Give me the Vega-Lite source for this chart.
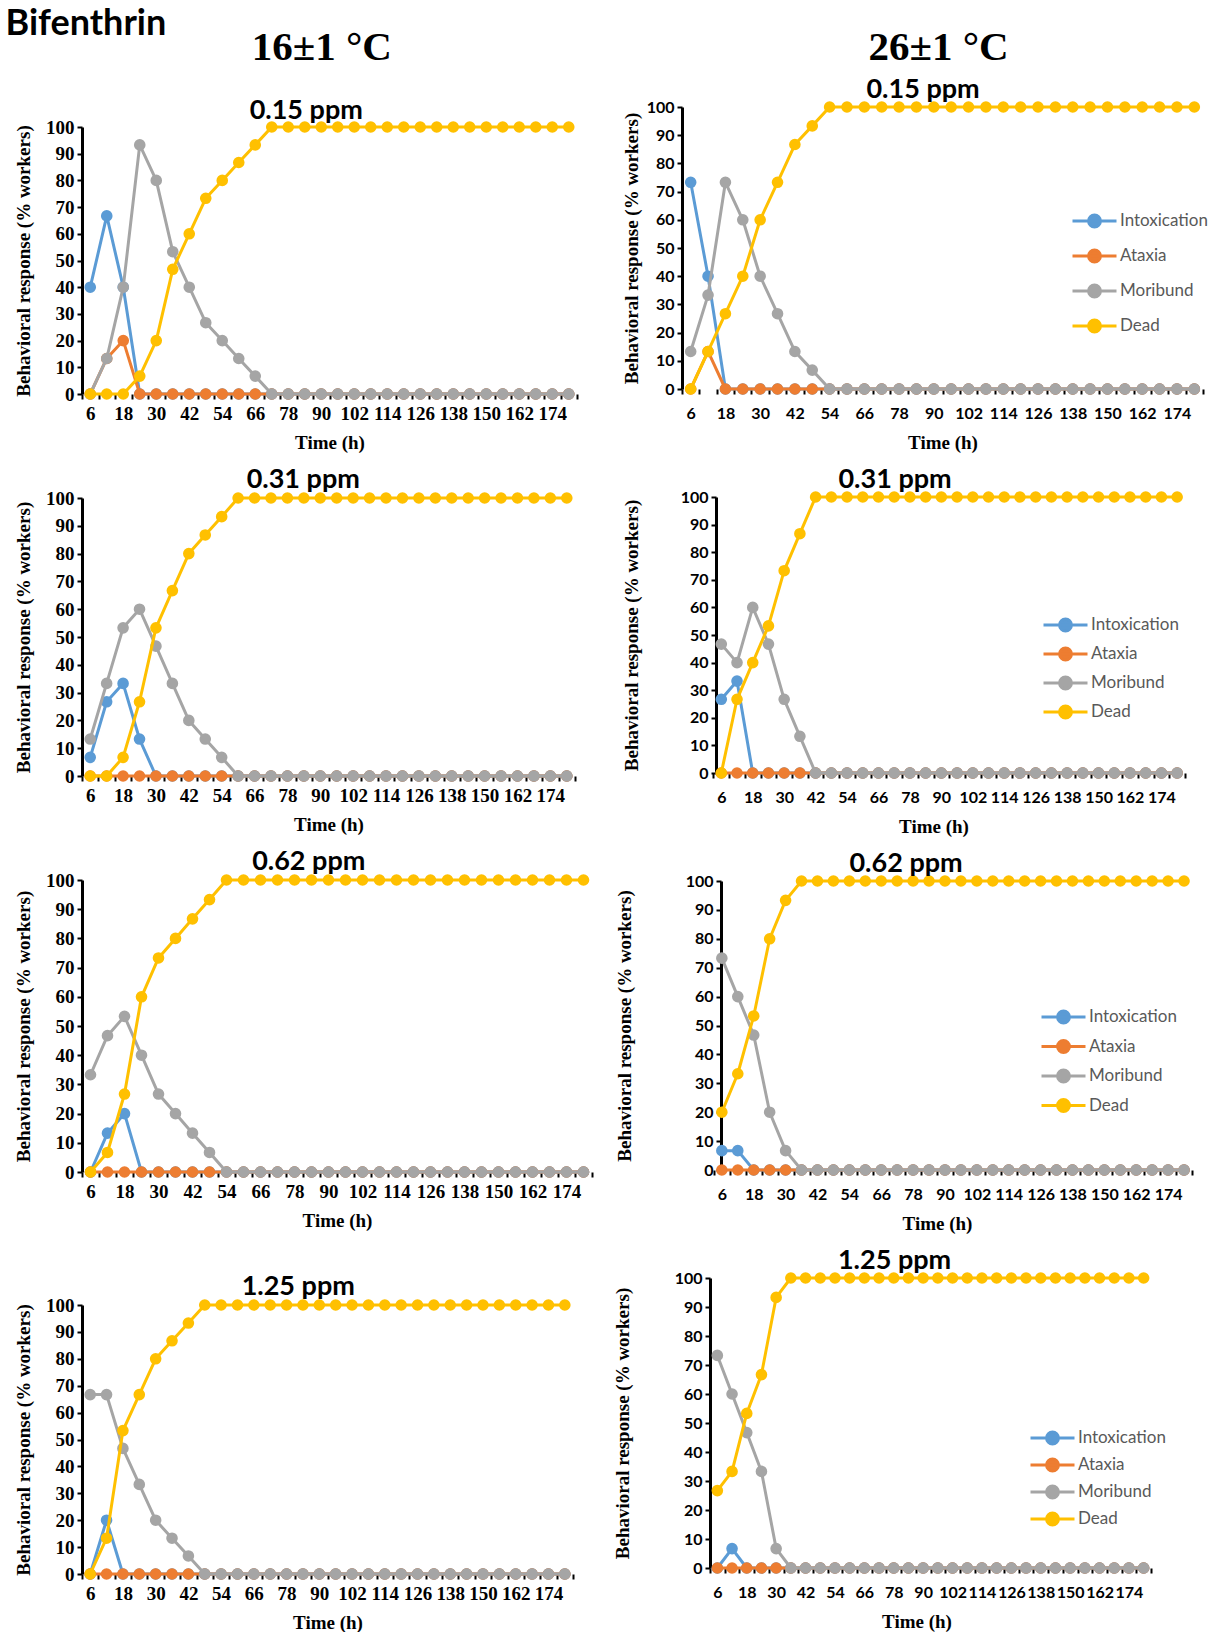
{
"$schema":"https://vega.github.io/schema/vega-lite/v6.json",
"background":"white",
"padding":{"left":5,"top":6,"right":0,"bottom":0},
"title":{"text":"Bifenthrin","anchor":"start","font":"Lato","fontSize":36,"fontWeight":"bold","color":"#000000","offset":-16,"dx":-9,"frame":"bounds"},
"config":{
"view":{"stroke":null},
"axis":{"grid":false,"labelFont":"Liberation Serif","labelFontWeight":"bold","labelFontSize":19,"labelColor":"#000000","titleFont":"Liberation Serif","titleFontWeight":"bold","titleFontSize":19,"titleColor":"#000000","tickColor":"#000000","tickWidth":2,"tickSize":5,"labelPadding":3},
"axisX":{"domain":false,"titlePadding":10,"labelPadding":5},
"axisY":{"domainColor":"#000000","domainWidth":3},
"title":{"font":"Lato","fontWeight":"bold","fontSize":27,"color":"#000000","offset":-5,"frame":"bounds","anchor":"middle"},
"line":{"strokeWidth":3,"strokeJoin":"round"},
"concat":{"spacing":21}
},
"datasets":{
"L1":[
{"s":"Intoxication","t":6,"v":40},{"s":"Intoxication","t":12,"v":66.7},{"s":"Intoxication","t":18,"v":40},{"s":"Intoxication","t":24,"v":0},{"s":"Intoxication","t":30,"v":0},{"s":"Intoxication","t":36,"v":0},{"s":"Intoxication","t":42,"v":0},{"s":"Intoxication","t":48,"v":0},{"s":"Intoxication","t":54,"v":0},{"s":"Intoxication","t":60,"v":0},{"s":"Intoxication","t":66,"v":0},{"s":"Intoxication","t":72,"v":0},{"s":"Intoxication","t":78,"v":0},{"s":"Intoxication","t":84,"v":0},{"s":"Intoxication","t":90,"v":0},{"s":"Intoxication","t":96,"v":0},{"s":"Intoxication","t":102,"v":0},{"s":"Intoxication","t":108,"v":0},{"s":"Intoxication","t":114,"v":0},{"s":"Intoxication","t":120,"v":0},{"s":"Intoxication","t":126,"v":0},{"s":"Intoxication","t":132,"v":0},{"s":"Intoxication","t":138,"v":0},{"s":"Intoxication","t":144,"v":0},{"s":"Intoxication","t":150,"v":0},{"s":"Intoxication","t":156,"v":0},{"s":"Intoxication","t":162,"v":0},{"s":"Intoxication","t":168,"v":0},{"s":"Intoxication","t":174,"v":0},{"s":"Intoxication","t":180,"v":0},
{"s":"Ataxia","t":6,"v":0},{"s":"Ataxia","t":12,"v":13.3},{"s":"Ataxia","t":18,"v":20},{"s":"Ataxia","t":24,"v":0},{"s":"Ataxia","t":30,"v":0},{"s":"Ataxia","t":36,"v":0},{"s":"Ataxia","t":42,"v":0},{"s":"Ataxia","t":48,"v":0},{"s":"Ataxia","t":54,"v":0},{"s":"Ataxia","t":60,"v":0},{"s":"Ataxia","t":66,"v":0},{"s":"Ataxia","t":72,"v":0},{"s":"Ataxia","t":78,"v":0},{"s":"Ataxia","t":84,"v":0},{"s":"Ataxia","t":90,"v":0},{"s":"Ataxia","t":96,"v":0},{"s":"Ataxia","t":102,"v":0},{"s":"Ataxia","t":108,"v":0},{"s":"Ataxia","t":114,"v":0},{"s":"Ataxia","t":120,"v":0},{"s":"Ataxia","t":126,"v":0},{"s":"Ataxia","t":132,"v":0},{"s":"Ataxia","t":138,"v":0},{"s":"Ataxia","t":144,"v":0},{"s":"Ataxia","t":150,"v":0},{"s":"Ataxia","t":156,"v":0},{"s":"Ataxia","t":162,"v":0},{"s":"Ataxia","t":168,"v":0},{"s":"Ataxia","t":174,"v":0},{"s":"Ataxia","t":180,"v":0},
{"s":"Moribund","t":6,"v":0},{"s":"Moribund","t":12,"v":13.3},{"s":"Moribund","t":18,"v":40},{"s":"Moribund","t":24,"v":93.3},{"s":"Moribund","t":30,"v":80},{"s":"Moribund","t":36,"v":53.3},{"s":"Moribund","t":42,"v":40},{"s":"Moribund","t":48,"v":26.7},{"s":"Moribund","t":54,"v":20},{"s":"Moribund","t":60,"v":13.3},{"s":"Moribund","t":66,"v":6.7},{"s":"Moribund","t":72,"v":0},{"s":"Moribund","t":78,"v":0},{"s":"Moribund","t":84,"v":0},{"s":"Moribund","t":90,"v":0},{"s":"Moribund","t":96,"v":0},{"s":"Moribund","t":102,"v":0},{"s":"Moribund","t":108,"v":0},{"s":"Moribund","t":114,"v":0},{"s":"Moribund","t":120,"v":0},{"s":"Moribund","t":126,"v":0},{"s":"Moribund","t":132,"v":0},{"s":"Moribund","t":138,"v":0},{"s":"Moribund","t":144,"v":0},{"s":"Moribund","t":150,"v":0},{"s":"Moribund","t":156,"v":0},{"s":"Moribund","t":162,"v":0},{"s":"Moribund","t":168,"v":0},{"s":"Moribund","t":174,"v":0},{"s":"Moribund","t":180,"v":0},
{"s":"Dead","t":6,"v":0},{"s":"Dead","t":12,"v":0},{"s":"Dead","t":18,"v":0},{"s":"Dead","t":24,"v":6.7},{"s":"Dead","t":30,"v":20},{"s":"Dead","t":36,"v":46.7},{"s":"Dead","t":42,"v":60},{"s":"Dead","t":48,"v":73.3},{"s":"Dead","t":54,"v":80},{"s":"Dead","t":60,"v":86.7},{"s":"Dead","t":66,"v":93.3},{"s":"Dead","t":72,"v":100},{"s":"Dead","t":78,"v":100},{"s":"Dead","t":84,"v":100},{"s":"Dead","t":90,"v":100},{"s":"Dead","t":96,"v":100},{"s":"Dead","t":102,"v":100},{"s":"Dead","t":108,"v":100},{"s":"Dead","t":114,"v":100},{"s":"Dead","t":120,"v":100},{"s":"Dead","t":126,"v":100},{"s":"Dead","t":132,"v":100},{"s":"Dead","t":138,"v":100},{"s":"Dead","t":144,"v":100},{"s":"Dead","t":150,"v":100},{"s":"Dead","t":156,"v":100},{"s":"Dead","t":162,"v":100},{"s":"Dead","t":168,"v":100},{"s":"Dead","t":174,"v":100},{"s":"Dead","t":180,"v":100}
],
"R1":[
{"s":"Intoxication","t":6,"v":73.3},{"s":"Intoxication","t":12,"v":40},{"s":"Intoxication","t":18,"v":0},{"s":"Intoxication","t":24,"v":0},{"s":"Intoxication","t":30,"v":0},{"s":"Intoxication","t":36,"v":0},{"s":"Intoxication","t":42,"v":0},{"s":"Intoxication","t":48,"v":0},{"s":"Intoxication","t":54,"v":0},{"s":"Intoxication","t":60,"v":0},{"s":"Intoxication","t":66,"v":0},{"s":"Intoxication","t":72,"v":0},{"s":"Intoxication","t":78,"v":0},{"s":"Intoxication","t":84,"v":0},{"s":"Intoxication","t":90,"v":0},{"s":"Intoxication","t":96,"v":0},{"s":"Intoxication","t":102,"v":0},{"s":"Intoxication","t":108,"v":0},{"s":"Intoxication","t":114,"v":0},{"s":"Intoxication","t":120,"v":0},{"s":"Intoxication","t":126,"v":0},{"s":"Intoxication","t":132,"v":0},{"s":"Intoxication","t":138,"v":0},{"s":"Intoxication","t":144,"v":0},{"s":"Intoxication","t":150,"v":0},{"s":"Intoxication","t":156,"v":0},{"s":"Intoxication","t":162,"v":0},{"s":"Intoxication","t":168,"v":0},{"s":"Intoxication","t":174,"v":0},{"s":"Intoxication","t":180,"v":0},
{"s":"Ataxia","t":6,"v":0},{"s":"Ataxia","t":12,"v":13.3},{"s":"Ataxia","t":18,"v":0},{"s":"Ataxia","t":24,"v":0},{"s":"Ataxia","t":30,"v":0},{"s":"Ataxia","t":36,"v":0},{"s":"Ataxia","t":42,"v":0},{"s":"Ataxia","t":48,"v":0},{"s":"Ataxia","t":54,"v":0},{"s":"Ataxia","t":60,"v":0},{"s":"Ataxia","t":66,"v":0},{"s":"Ataxia","t":72,"v":0},{"s":"Ataxia","t":78,"v":0},{"s":"Ataxia","t":84,"v":0},{"s":"Ataxia","t":90,"v":0},{"s":"Ataxia","t":96,"v":0},{"s":"Ataxia","t":102,"v":0},{"s":"Ataxia","t":108,"v":0},{"s":"Ataxia","t":114,"v":0},{"s":"Ataxia","t":120,"v":0},{"s":"Ataxia","t":126,"v":0},{"s":"Ataxia","t":132,"v":0},{"s":"Ataxia","t":138,"v":0},{"s":"Ataxia","t":144,"v":0},{"s":"Ataxia","t":150,"v":0},{"s":"Ataxia","t":156,"v":0},{"s":"Ataxia","t":162,"v":0},{"s":"Ataxia","t":168,"v":0},{"s":"Ataxia","t":174,"v":0},{"s":"Ataxia","t":180,"v":0},
{"s":"Moribund","t":6,"v":13.3},{"s":"Moribund","t":12,"v":33.3},{"s":"Moribund","t":18,"v":73.3},{"s":"Moribund","t":24,"v":60},{"s":"Moribund","t":30,"v":40},{"s":"Moribund","t":36,"v":26.7},{"s":"Moribund","t":42,"v":13.3},{"s":"Moribund","t":48,"v":6.7},{"s":"Moribund","t":54,"v":0},{"s":"Moribund","t":60,"v":0},{"s":"Moribund","t":66,"v":0},{"s":"Moribund","t":72,"v":0},{"s":"Moribund","t":78,"v":0},{"s":"Moribund","t":84,"v":0},{"s":"Moribund","t":90,"v":0},{"s":"Moribund","t":96,"v":0},{"s":"Moribund","t":102,"v":0},{"s":"Moribund","t":108,"v":0},{"s":"Moribund","t":114,"v":0},{"s":"Moribund","t":120,"v":0},{"s":"Moribund","t":126,"v":0},{"s":"Moribund","t":132,"v":0},{"s":"Moribund","t":138,"v":0},{"s":"Moribund","t":144,"v":0},{"s":"Moribund","t":150,"v":0},{"s":"Moribund","t":156,"v":0},{"s":"Moribund","t":162,"v":0},{"s":"Moribund","t":168,"v":0},{"s":"Moribund","t":174,"v":0},{"s":"Moribund","t":180,"v":0},
{"s":"Dead","t":6,"v":0},{"s":"Dead","t":12,"v":13.3},{"s":"Dead","t":18,"v":26.7},{"s":"Dead","t":24,"v":40},{"s":"Dead","t":30,"v":60},{"s":"Dead","t":36,"v":73.3},{"s":"Dead","t":42,"v":86.7},{"s":"Dead","t":48,"v":93.3},{"s":"Dead","t":54,"v":100},{"s":"Dead","t":60,"v":100},{"s":"Dead","t":66,"v":100},{"s":"Dead","t":72,"v":100},{"s":"Dead","t":78,"v":100},{"s":"Dead","t":84,"v":100},{"s":"Dead","t":90,"v":100},{"s":"Dead","t":96,"v":100},{"s":"Dead","t":102,"v":100},{"s":"Dead","t":108,"v":100},{"s":"Dead","t":114,"v":100},{"s":"Dead","t":120,"v":100},{"s":"Dead","t":126,"v":100},{"s":"Dead","t":132,"v":100},{"s":"Dead","t":138,"v":100},{"s":"Dead","t":144,"v":100},{"s":"Dead","t":150,"v":100},{"s":"Dead","t":156,"v":100},{"s":"Dead","t":162,"v":100},{"s":"Dead","t":168,"v":100},{"s":"Dead","t":174,"v":100},{"s":"Dead","t":180,"v":100}
],
"L2":[
{"s":"Intoxication","t":6,"v":6.7},{"s":"Intoxication","t":12,"v":26.7},{"s":"Intoxication","t":18,"v":33.3},{"s":"Intoxication","t":24,"v":13.3},{"s":"Intoxication","t":30,"v":0},{"s":"Intoxication","t":36,"v":0},{"s":"Intoxication","t":42,"v":0},{"s":"Intoxication","t":48,"v":0},{"s":"Intoxication","t":54,"v":0},{"s":"Intoxication","t":60,"v":0},{"s":"Intoxication","t":66,"v":0},{"s":"Intoxication","t":72,"v":0},{"s":"Intoxication","t":78,"v":0},{"s":"Intoxication","t":84,"v":0},{"s":"Intoxication","t":90,"v":0},{"s":"Intoxication","t":96,"v":0},{"s":"Intoxication","t":102,"v":0},{"s":"Intoxication","t":108,"v":0},{"s":"Intoxication","t":114,"v":0},{"s":"Intoxication","t":120,"v":0},{"s":"Intoxication","t":126,"v":0},{"s":"Intoxication","t":132,"v":0},{"s":"Intoxication","t":138,"v":0},{"s":"Intoxication","t":144,"v":0},{"s":"Intoxication","t":150,"v":0},{"s":"Intoxication","t":156,"v":0},{"s":"Intoxication","t":162,"v":0},{"s":"Intoxication","t":168,"v":0},{"s":"Intoxication","t":174,"v":0},{"s":"Intoxication","t":180,"v":0},
{"s":"Ataxia","t":6,"v":0},{"s":"Ataxia","t":12,"v":0},{"s":"Ataxia","t":18,"v":0},{"s":"Ataxia","t":24,"v":0},{"s":"Ataxia","t":30,"v":0},{"s":"Ataxia","t":36,"v":0},{"s":"Ataxia","t":42,"v":0},{"s":"Ataxia","t":48,"v":0},{"s":"Ataxia","t":54,"v":0},{"s":"Ataxia","t":60,"v":0},{"s":"Ataxia","t":66,"v":0},{"s":"Ataxia","t":72,"v":0},{"s":"Ataxia","t":78,"v":0},{"s":"Ataxia","t":84,"v":0},{"s":"Ataxia","t":90,"v":0},{"s":"Ataxia","t":96,"v":0},{"s":"Ataxia","t":102,"v":0},{"s":"Ataxia","t":108,"v":0},{"s":"Ataxia","t":114,"v":0},{"s":"Ataxia","t":120,"v":0},{"s":"Ataxia","t":126,"v":0},{"s":"Ataxia","t":132,"v":0},{"s":"Ataxia","t":138,"v":0},{"s":"Ataxia","t":144,"v":0},{"s":"Ataxia","t":150,"v":0},{"s":"Ataxia","t":156,"v":0},{"s":"Ataxia","t":162,"v":0},{"s":"Ataxia","t":168,"v":0},{"s":"Ataxia","t":174,"v":0},{"s":"Ataxia","t":180,"v":0},
{"s":"Moribund","t":6,"v":13.3},{"s":"Moribund","t":12,"v":33.3},{"s":"Moribund","t":18,"v":53.3},{"s":"Moribund","t":24,"v":60},{"s":"Moribund","t":30,"v":46.7},{"s":"Moribund","t":36,"v":33.3},{"s":"Moribund","t":42,"v":20},{"s":"Moribund","t":48,"v":13.3},{"s":"Moribund","t":54,"v":6.7},{"s":"Moribund","t":60,"v":0},{"s":"Moribund","t":66,"v":0},{"s":"Moribund","t":72,"v":0},{"s":"Moribund","t":78,"v":0},{"s":"Moribund","t":84,"v":0},{"s":"Moribund","t":90,"v":0},{"s":"Moribund","t":96,"v":0},{"s":"Moribund","t":102,"v":0},{"s":"Moribund","t":108,"v":0},{"s":"Moribund","t":114,"v":0},{"s":"Moribund","t":120,"v":0},{"s":"Moribund","t":126,"v":0},{"s":"Moribund","t":132,"v":0},{"s":"Moribund","t":138,"v":0},{"s":"Moribund","t":144,"v":0},{"s":"Moribund","t":150,"v":0},{"s":"Moribund","t":156,"v":0},{"s":"Moribund","t":162,"v":0},{"s":"Moribund","t":168,"v":0},{"s":"Moribund","t":174,"v":0},{"s":"Moribund","t":180,"v":0},
{"s":"Dead","t":6,"v":0},{"s":"Dead","t":12,"v":0},{"s":"Dead","t":18,"v":6.7},{"s":"Dead","t":24,"v":26.7},{"s":"Dead","t":30,"v":53.3},{"s":"Dead","t":36,"v":66.7},{"s":"Dead","t":42,"v":80},{"s":"Dead","t":48,"v":86.7},{"s":"Dead","t":54,"v":93.3},{"s":"Dead","t":60,"v":100},{"s":"Dead","t":66,"v":100},{"s":"Dead","t":72,"v":100},{"s":"Dead","t":78,"v":100},{"s":"Dead","t":84,"v":100},{"s":"Dead","t":90,"v":100},{"s":"Dead","t":96,"v":100},{"s":"Dead","t":102,"v":100},{"s":"Dead","t":108,"v":100},{"s":"Dead","t":114,"v":100},{"s":"Dead","t":120,"v":100},{"s":"Dead","t":126,"v":100},{"s":"Dead","t":132,"v":100},{"s":"Dead","t":138,"v":100},{"s":"Dead","t":144,"v":100},{"s":"Dead","t":150,"v":100},{"s":"Dead","t":156,"v":100},{"s":"Dead","t":162,"v":100},{"s":"Dead","t":168,"v":100},{"s":"Dead","t":174,"v":100},{"s":"Dead","t":180,"v":100}
],
"R2":[
{"s":"Intoxication","t":6,"v":26.7},{"s":"Intoxication","t":12,"v":33.3},{"s":"Intoxication","t":18,"v":0},{"s":"Intoxication","t":24,"v":0},{"s":"Intoxication","t":30,"v":0},{"s":"Intoxication","t":36,"v":0},{"s":"Intoxication","t":42,"v":0},{"s":"Intoxication","t":48,"v":0},{"s":"Intoxication","t":54,"v":0},{"s":"Intoxication","t":60,"v":0},{"s":"Intoxication","t":66,"v":0},{"s":"Intoxication","t":72,"v":0},{"s":"Intoxication","t":78,"v":0},{"s":"Intoxication","t":84,"v":0},{"s":"Intoxication","t":90,"v":0},{"s":"Intoxication","t":96,"v":0},{"s":"Intoxication","t":102,"v":0},{"s":"Intoxication","t":108,"v":0},{"s":"Intoxication","t":114,"v":0},{"s":"Intoxication","t":120,"v":0},{"s":"Intoxication","t":126,"v":0},{"s":"Intoxication","t":132,"v":0},{"s":"Intoxication","t":138,"v":0},{"s":"Intoxication","t":144,"v":0},{"s":"Intoxication","t":150,"v":0},{"s":"Intoxication","t":156,"v":0},{"s":"Intoxication","t":162,"v":0},{"s":"Intoxication","t":168,"v":0},{"s":"Intoxication","t":174,"v":0},{"s":"Intoxication","t":180,"v":0},
{"s":"Ataxia","t":6,"v":0},{"s":"Ataxia","t":12,"v":0},{"s":"Ataxia","t":18,"v":0},{"s":"Ataxia","t":24,"v":0},{"s":"Ataxia","t":30,"v":0},{"s":"Ataxia","t":36,"v":0},{"s":"Ataxia","t":42,"v":0},{"s":"Ataxia","t":48,"v":0},{"s":"Ataxia","t":54,"v":0},{"s":"Ataxia","t":60,"v":0},{"s":"Ataxia","t":66,"v":0},{"s":"Ataxia","t":72,"v":0},{"s":"Ataxia","t":78,"v":0},{"s":"Ataxia","t":84,"v":0},{"s":"Ataxia","t":90,"v":0},{"s":"Ataxia","t":96,"v":0},{"s":"Ataxia","t":102,"v":0},{"s":"Ataxia","t":108,"v":0},{"s":"Ataxia","t":114,"v":0},{"s":"Ataxia","t":120,"v":0},{"s":"Ataxia","t":126,"v":0},{"s":"Ataxia","t":132,"v":0},{"s":"Ataxia","t":138,"v":0},{"s":"Ataxia","t":144,"v":0},{"s":"Ataxia","t":150,"v":0},{"s":"Ataxia","t":156,"v":0},{"s":"Ataxia","t":162,"v":0},{"s":"Ataxia","t":168,"v":0},{"s":"Ataxia","t":174,"v":0},{"s":"Ataxia","t":180,"v":0},
{"s":"Moribund","t":6,"v":46.7},{"s":"Moribund","t":12,"v":40},{"s":"Moribund","t":18,"v":60},{"s":"Moribund","t":24,"v":46.7},{"s":"Moribund","t":30,"v":26.7},{"s":"Moribund","t":36,"v":13.3},{"s":"Moribund","t":42,"v":0},{"s":"Moribund","t":48,"v":0},{"s":"Moribund","t":54,"v":0},{"s":"Moribund","t":60,"v":0},{"s":"Moribund","t":66,"v":0},{"s":"Moribund","t":72,"v":0},{"s":"Moribund","t":78,"v":0},{"s":"Moribund","t":84,"v":0},{"s":"Moribund","t":90,"v":0},{"s":"Moribund","t":96,"v":0},{"s":"Moribund","t":102,"v":0},{"s":"Moribund","t":108,"v":0},{"s":"Moribund","t":114,"v":0},{"s":"Moribund","t":120,"v":0},{"s":"Moribund","t":126,"v":0},{"s":"Moribund","t":132,"v":0},{"s":"Moribund","t":138,"v":0},{"s":"Moribund","t":144,"v":0},{"s":"Moribund","t":150,"v":0},{"s":"Moribund","t":156,"v":0},{"s":"Moribund","t":162,"v":0},{"s":"Moribund","t":168,"v":0},{"s":"Moribund","t":174,"v":0},{"s":"Moribund","t":180,"v":0},
{"s":"Dead","t":6,"v":0},{"s":"Dead","t":12,"v":26.7},{"s":"Dead","t":18,"v":40},{"s":"Dead","t":24,"v":53.3},{"s":"Dead","t":30,"v":73.3},{"s":"Dead","t":36,"v":86.7},{"s":"Dead","t":42,"v":100},{"s":"Dead","t":48,"v":100},{"s":"Dead","t":54,"v":100},{"s":"Dead","t":60,"v":100},{"s":"Dead","t":66,"v":100},{"s":"Dead","t":72,"v":100},{"s":"Dead","t":78,"v":100},{"s":"Dead","t":84,"v":100},{"s":"Dead","t":90,"v":100},{"s":"Dead","t":96,"v":100},{"s":"Dead","t":102,"v":100},{"s":"Dead","t":108,"v":100},{"s":"Dead","t":114,"v":100},{"s":"Dead","t":120,"v":100},{"s":"Dead","t":126,"v":100},{"s":"Dead","t":132,"v":100},{"s":"Dead","t":138,"v":100},{"s":"Dead","t":144,"v":100},{"s":"Dead","t":150,"v":100},{"s":"Dead","t":156,"v":100},{"s":"Dead","t":162,"v":100},{"s":"Dead","t":168,"v":100},{"s":"Dead","t":174,"v":100},{"s":"Dead","t":180,"v":100}
],
"L3":[
{"s":"Intoxication","t":6,"v":0},{"s":"Intoxication","t":12,"v":13.3},{"s":"Intoxication","t":18,"v":20},{"s":"Intoxication","t":24,"v":0},{"s":"Intoxication","t":30,"v":0},{"s":"Intoxication","t":36,"v":0},{"s":"Intoxication","t":42,"v":0},{"s":"Intoxication","t":48,"v":0},{"s":"Intoxication","t":54,"v":0},{"s":"Intoxication","t":60,"v":0},{"s":"Intoxication","t":66,"v":0},{"s":"Intoxication","t":72,"v":0},{"s":"Intoxication","t":78,"v":0},{"s":"Intoxication","t":84,"v":0},{"s":"Intoxication","t":90,"v":0},{"s":"Intoxication","t":96,"v":0},{"s":"Intoxication","t":102,"v":0},{"s":"Intoxication","t":108,"v":0},{"s":"Intoxication","t":114,"v":0},{"s":"Intoxication","t":120,"v":0},{"s":"Intoxication","t":126,"v":0},{"s":"Intoxication","t":132,"v":0},{"s":"Intoxication","t":138,"v":0},{"s":"Intoxication","t":144,"v":0},{"s":"Intoxication","t":150,"v":0},{"s":"Intoxication","t":156,"v":0},{"s":"Intoxication","t":162,"v":0},{"s":"Intoxication","t":168,"v":0},{"s":"Intoxication","t":174,"v":0},{"s":"Intoxication","t":180,"v":0},
{"s":"Ataxia","t":6,"v":0},{"s":"Ataxia","t":12,"v":0},{"s":"Ataxia","t":18,"v":0},{"s":"Ataxia","t":24,"v":0},{"s":"Ataxia","t":30,"v":0},{"s":"Ataxia","t":36,"v":0},{"s":"Ataxia","t":42,"v":0},{"s":"Ataxia","t":48,"v":0},{"s":"Ataxia","t":54,"v":0},{"s":"Ataxia","t":60,"v":0},{"s":"Ataxia","t":66,"v":0},{"s":"Ataxia","t":72,"v":0},{"s":"Ataxia","t":78,"v":0},{"s":"Ataxia","t":84,"v":0},{"s":"Ataxia","t":90,"v":0},{"s":"Ataxia","t":96,"v":0},{"s":"Ataxia","t":102,"v":0},{"s":"Ataxia","t":108,"v":0},{"s":"Ataxia","t":114,"v":0},{"s":"Ataxia","t":120,"v":0},{"s":"Ataxia","t":126,"v":0},{"s":"Ataxia","t":132,"v":0},{"s":"Ataxia","t":138,"v":0},{"s":"Ataxia","t":144,"v":0},{"s":"Ataxia","t":150,"v":0},{"s":"Ataxia","t":156,"v":0},{"s":"Ataxia","t":162,"v":0},{"s":"Ataxia","t":168,"v":0},{"s":"Ataxia","t":174,"v":0},{"s":"Ataxia","t":180,"v":0},
{"s":"Moribund","t":6,"v":33.3},{"s":"Moribund","t":12,"v":46.7},{"s":"Moribund","t":18,"v":53.3},{"s":"Moribund","t":24,"v":40},{"s":"Moribund","t":30,"v":26.7},{"s":"Moribund","t":36,"v":20},{"s":"Moribund","t":42,"v":13.3},{"s":"Moribund","t":48,"v":6.7},{"s":"Moribund","t":54,"v":0},{"s":"Moribund","t":60,"v":0},{"s":"Moribund","t":66,"v":0},{"s":"Moribund","t":72,"v":0},{"s":"Moribund","t":78,"v":0},{"s":"Moribund","t":84,"v":0},{"s":"Moribund","t":90,"v":0},{"s":"Moribund","t":96,"v":0},{"s":"Moribund","t":102,"v":0},{"s":"Moribund","t":108,"v":0},{"s":"Moribund","t":114,"v":0},{"s":"Moribund","t":120,"v":0},{"s":"Moribund","t":126,"v":0},{"s":"Moribund","t":132,"v":0},{"s":"Moribund","t":138,"v":0},{"s":"Moribund","t":144,"v":0},{"s":"Moribund","t":150,"v":0},{"s":"Moribund","t":156,"v":0},{"s":"Moribund","t":162,"v":0},{"s":"Moribund","t":168,"v":0},{"s":"Moribund","t":174,"v":0},{"s":"Moribund","t":180,"v":0},
{"s":"Dead","t":6,"v":0},{"s":"Dead","t":12,"v":6.7},{"s":"Dead","t":18,"v":26.7},{"s":"Dead","t":24,"v":60},{"s":"Dead","t":30,"v":73.3},{"s":"Dead","t":36,"v":80},{"s":"Dead","t":42,"v":86.7},{"s":"Dead","t":48,"v":93.3},{"s":"Dead","t":54,"v":100},{"s":"Dead","t":60,"v":100},{"s":"Dead","t":66,"v":100},{"s":"Dead","t":72,"v":100},{"s":"Dead","t":78,"v":100},{"s":"Dead","t":84,"v":100},{"s":"Dead","t":90,"v":100},{"s":"Dead","t":96,"v":100},{"s":"Dead","t":102,"v":100},{"s":"Dead","t":108,"v":100},{"s":"Dead","t":114,"v":100},{"s":"Dead","t":120,"v":100},{"s":"Dead","t":126,"v":100},{"s":"Dead","t":132,"v":100},{"s":"Dead","t":138,"v":100},{"s":"Dead","t":144,"v":100},{"s":"Dead","t":150,"v":100},{"s":"Dead","t":156,"v":100},{"s":"Dead","t":162,"v":100},{"s":"Dead","t":168,"v":100},{"s":"Dead","t":174,"v":100},{"s":"Dead","t":180,"v":100}
],
"R3":[
{"s":"Intoxication","t":6,"v":6.7},{"s":"Intoxication","t":12,"v":6.7},{"s":"Intoxication","t":18,"v":0},{"s":"Intoxication","t":24,"v":0},{"s":"Intoxication","t":30,"v":0},{"s":"Intoxication","t":36,"v":0},{"s":"Intoxication","t":42,"v":0},{"s":"Intoxication","t":48,"v":0},{"s":"Intoxication","t":54,"v":0},{"s":"Intoxication","t":60,"v":0},{"s":"Intoxication","t":66,"v":0},{"s":"Intoxication","t":72,"v":0},{"s":"Intoxication","t":78,"v":0},{"s":"Intoxication","t":84,"v":0},{"s":"Intoxication","t":90,"v":0},{"s":"Intoxication","t":96,"v":0},{"s":"Intoxication","t":102,"v":0},{"s":"Intoxication","t":108,"v":0},{"s":"Intoxication","t":114,"v":0},{"s":"Intoxication","t":120,"v":0},{"s":"Intoxication","t":126,"v":0},{"s":"Intoxication","t":132,"v":0},{"s":"Intoxication","t":138,"v":0},{"s":"Intoxication","t":144,"v":0},{"s":"Intoxication","t":150,"v":0},{"s":"Intoxication","t":156,"v":0},{"s":"Intoxication","t":162,"v":0},{"s":"Intoxication","t":168,"v":0},{"s":"Intoxication","t":174,"v":0},{"s":"Intoxication","t":180,"v":0},
{"s":"Ataxia","t":6,"v":0},{"s":"Ataxia","t":12,"v":0},{"s":"Ataxia","t":18,"v":0},{"s":"Ataxia","t":24,"v":0},{"s":"Ataxia","t":30,"v":0},{"s":"Ataxia","t":36,"v":0},{"s":"Ataxia","t":42,"v":0},{"s":"Ataxia","t":48,"v":0},{"s":"Ataxia","t":54,"v":0},{"s":"Ataxia","t":60,"v":0},{"s":"Ataxia","t":66,"v":0},{"s":"Ataxia","t":72,"v":0},{"s":"Ataxia","t":78,"v":0},{"s":"Ataxia","t":84,"v":0},{"s":"Ataxia","t":90,"v":0},{"s":"Ataxia","t":96,"v":0},{"s":"Ataxia","t":102,"v":0},{"s":"Ataxia","t":108,"v":0},{"s":"Ataxia","t":114,"v":0},{"s":"Ataxia","t":120,"v":0},{"s":"Ataxia","t":126,"v":0},{"s":"Ataxia","t":132,"v":0},{"s":"Ataxia","t":138,"v":0},{"s":"Ataxia","t":144,"v":0},{"s":"Ataxia","t":150,"v":0},{"s":"Ataxia","t":156,"v":0},{"s":"Ataxia","t":162,"v":0},{"s":"Ataxia","t":168,"v":0},{"s":"Ataxia","t":174,"v":0},{"s":"Ataxia","t":180,"v":0},
{"s":"Moribund","t":6,"v":73.3},{"s":"Moribund","t":12,"v":60},{"s":"Moribund","t":18,"v":46.7},{"s":"Moribund","t":24,"v":20},{"s":"Moribund","t":30,"v":6.7},{"s":"Moribund","t":36,"v":0},{"s":"Moribund","t":42,"v":0},{"s":"Moribund","t":48,"v":0},{"s":"Moribund","t":54,"v":0},{"s":"Moribund","t":60,"v":0},{"s":"Moribund","t":66,"v":0},{"s":"Moribund","t":72,"v":0},{"s":"Moribund","t":78,"v":0},{"s":"Moribund","t":84,"v":0},{"s":"Moribund","t":90,"v":0},{"s":"Moribund","t":96,"v":0},{"s":"Moribund","t":102,"v":0},{"s":"Moribund","t":108,"v":0},{"s":"Moribund","t":114,"v":0},{"s":"Moribund","t":120,"v":0},{"s":"Moribund","t":126,"v":0},{"s":"Moribund","t":132,"v":0},{"s":"Moribund","t":138,"v":0},{"s":"Moribund","t":144,"v":0},{"s":"Moribund","t":150,"v":0},{"s":"Moribund","t":156,"v":0},{"s":"Moribund","t":162,"v":0},{"s":"Moribund","t":168,"v":0},{"s":"Moribund","t":174,"v":0},{"s":"Moribund","t":180,"v":0},
{"s":"Dead","t":6,"v":20},{"s":"Dead","t":12,"v":33.3},{"s":"Dead","t":18,"v":53.3},{"s":"Dead","t":24,"v":80},{"s":"Dead","t":30,"v":93.3},{"s":"Dead","t":36,"v":100},{"s":"Dead","t":42,"v":100},{"s":"Dead","t":48,"v":100},{"s":"Dead","t":54,"v":100},{"s":"Dead","t":60,"v":100},{"s":"Dead","t":66,"v":100},{"s":"Dead","t":72,"v":100},{"s":"Dead","t":78,"v":100},{"s":"Dead","t":84,"v":100},{"s":"Dead","t":90,"v":100},{"s":"Dead","t":96,"v":100},{"s":"Dead","t":102,"v":100},{"s":"Dead","t":108,"v":100},{"s":"Dead","t":114,"v":100},{"s":"Dead","t":120,"v":100},{"s":"Dead","t":126,"v":100},{"s":"Dead","t":132,"v":100},{"s":"Dead","t":138,"v":100},{"s":"Dead","t":144,"v":100},{"s":"Dead","t":150,"v":100},{"s":"Dead","t":156,"v":100},{"s":"Dead","t":162,"v":100},{"s":"Dead","t":168,"v":100},{"s":"Dead","t":174,"v":100},{"s":"Dead","t":180,"v":100}
],
"L4":[
{"s":"Intoxication","t":6,"v":0},{"s":"Intoxication","t":12,"v":20},{"s":"Intoxication","t":18,"v":0},{"s":"Intoxication","t":24,"v":0},{"s":"Intoxication","t":30,"v":0},{"s":"Intoxication","t":36,"v":0},{"s":"Intoxication","t":42,"v":0},{"s":"Intoxication","t":48,"v":0},{"s":"Intoxication","t":54,"v":0},{"s":"Intoxication","t":60,"v":0},{"s":"Intoxication","t":66,"v":0},{"s":"Intoxication","t":72,"v":0},{"s":"Intoxication","t":78,"v":0},{"s":"Intoxication","t":84,"v":0},{"s":"Intoxication","t":90,"v":0},{"s":"Intoxication","t":96,"v":0},{"s":"Intoxication","t":102,"v":0},{"s":"Intoxication","t":108,"v":0},{"s":"Intoxication","t":114,"v":0},{"s":"Intoxication","t":120,"v":0},{"s":"Intoxication","t":126,"v":0},{"s":"Intoxication","t":132,"v":0},{"s":"Intoxication","t":138,"v":0},{"s":"Intoxication","t":144,"v":0},{"s":"Intoxication","t":150,"v":0},{"s":"Intoxication","t":156,"v":0},{"s":"Intoxication","t":162,"v":0},{"s":"Intoxication","t":168,"v":0},{"s":"Intoxication","t":174,"v":0},{"s":"Intoxication","t":180,"v":0},
{"s":"Ataxia","t":6,"v":0},{"s":"Ataxia","t":12,"v":0},{"s":"Ataxia","t":18,"v":0},{"s":"Ataxia","t":24,"v":0},{"s":"Ataxia","t":30,"v":0},{"s":"Ataxia","t":36,"v":0},{"s":"Ataxia","t":42,"v":0},{"s":"Ataxia","t":48,"v":0},{"s":"Ataxia","t":54,"v":0},{"s":"Ataxia","t":60,"v":0},{"s":"Ataxia","t":66,"v":0},{"s":"Ataxia","t":72,"v":0},{"s":"Ataxia","t":78,"v":0},{"s":"Ataxia","t":84,"v":0},{"s":"Ataxia","t":90,"v":0},{"s":"Ataxia","t":96,"v":0},{"s":"Ataxia","t":102,"v":0},{"s":"Ataxia","t":108,"v":0},{"s":"Ataxia","t":114,"v":0},{"s":"Ataxia","t":120,"v":0},{"s":"Ataxia","t":126,"v":0},{"s":"Ataxia","t":132,"v":0},{"s":"Ataxia","t":138,"v":0},{"s":"Ataxia","t":144,"v":0},{"s":"Ataxia","t":150,"v":0},{"s":"Ataxia","t":156,"v":0},{"s":"Ataxia","t":162,"v":0},{"s":"Ataxia","t":168,"v":0},{"s":"Ataxia","t":174,"v":0},{"s":"Ataxia","t":180,"v":0},
{"s":"Moribund","t":6,"v":66.7},{"s":"Moribund","t":12,"v":66.7},{"s":"Moribund","t":18,"v":46.7},{"s":"Moribund","t":24,"v":33.3},{"s":"Moribund","t":30,"v":20},{"s":"Moribund","t":36,"v":13.3},{"s":"Moribund","t":42,"v":6.7},{"s":"Moribund","t":48,"v":0},{"s":"Moribund","t":54,"v":0},{"s":"Moribund","t":60,"v":0},{"s":"Moribund","t":66,"v":0},{"s":"Moribund","t":72,"v":0},{"s":"Moribund","t":78,"v":0},{"s":"Moribund","t":84,"v":0},{"s":"Moribund","t":90,"v":0},{"s":"Moribund","t":96,"v":0},{"s":"Moribund","t":102,"v":0},{"s":"Moribund","t":108,"v":0},{"s":"Moribund","t":114,"v":0},{"s":"Moribund","t":120,"v":0},{"s":"Moribund","t":126,"v":0},{"s":"Moribund","t":132,"v":0},{"s":"Moribund","t":138,"v":0},{"s":"Moribund","t":144,"v":0},{"s":"Moribund","t":150,"v":0},{"s":"Moribund","t":156,"v":0},{"s":"Moribund","t":162,"v":0},{"s":"Moribund","t":168,"v":0},{"s":"Moribund","t":174,"v":0},{"s":"Moribund","t":180,"v":0},
{"s":"Dead","t":6,"v":0},{"s":"Dead","t":12,"v":13.3},{"s":"Dead","t":18,"v":53.3},{"s":"Dead","t":24,"v":66.7},{"s":"Dead","t":30,"v":80},{"s":"Dead","t":36,"v":86.7},{"s":"Dead","t":42,"v":93.3},{"s":"Dead","t":48,"v":100},{"s":"Dead","t":54,"v":100},{"s":"Dead","t":60,"v":100},{"s":"Dead","t":66,"v":100},{"s":"Dead","t":72,"v":100},{"s":"Dead","t":78,"v":100},{"s":"Dead","t":84,"v":100},{"s":"Dead","t":90,"v":100},{"s":"Dead","t":96,"v":100},{"s":"Dead","t":102,"v":100},{"s":"Dead","t":108,"v":100},{"s":"Dead","t":114,"v":100},{"s":"Dead","t":120,"v":100},{"s":"Dead","t":126,"v":100},{"s":"Dead","t":132,"v":100},{"s":"Dead","t":138,"v":100},{"s":"Dead","t":144,"v":100},{"s":"Dead","t":150,"v":100},{"s":"Dead","t":156,"v":100},{"s":"Dead","t":162,"v":100},{"s":"Dead","t":168,"v":100},{"s":"Dead","t":174,"v":100},{"s":"Dead","t":180,"v":100}
],
"R4":[
{"s":"Intoxication","t":6,"v":0},{"s":"Intoxication","t":12,"v":6.7},{"s":"Intoxication","t":18,"v":0},{"s":"Intoxication","t":24,"v":0},{"s":"Intoxication","t":30,"v":0},{"s":"Intoxication","t":36,"v":0},{"s":"Intoxication","t":42,"v":0},{"s":"Intoxication","t":48,"v":0},{"s":"Intoxication","t":54,"v":0},{"s":"Intoxication","t":60,"v":0},{"s":"Intoxication","t":66,"v":0},{"s":"Intoxication","t":72,"v":0},{"s":"Intoxication","t":78,"v":0},{"s":"Intoxication","t":84,"v":0},{"s":"Intoxication","t":90,"v":0},{"s":"Intoxication","t":96,"v":0},{"s":"Intoxication","t":102,"v":0},{"s":"Intoxication","t":108,"v":0},{"s":"Intoxication","t":114,"v":0},{"s":"Intoxication","t":120,"v":0},{"s":"Intoxication","t":126,"v":0},{"s":"Intoxication","t":132,"v":0},{"s":"Intoxication","t":138,"v":0},{"s":"Intoxication","t":144,"v":0},{"s":"Intoxication","t":150,"v":0},{"s":"Intoxication","t":156,"v":0},{"s":"Intoxication","t":162,"v":0},{"s":"Intoxication","t":168,"v":0},{"s":"Intoxication","t":174,"v":0},{"s":"Intoxication","t":180,"v":0},
{"s":"Ataxia","t":6,"v":0},{"s":"Ataxia","t":12,"v":0},{"s":"Ataxia","t":18,"v":0},{"s":"Ataxia","t":24,"v":0},{"s":"Ataxia","t":30,"v":0},{"s":"Ataxia","t":36,"v":0},{"s":"Ataxia","t":42,"v":0},{"s":"Ataxia","t":48,"v":0},{"s":"Ataxia","t":54,"v":0},{"s":"Ataxia","t":60,"v":0},{"s":"Ataxia","t":66,"v":0},{"s":"Ataxia","t":72,"v":0},{"s":"Ataxia","t":78,"v":0},{"s":"Ataxia","t":84,"v":0},{"s":"Ataxia","t":90,"v":0},{"s":"Ataxia","t":96,"v":0},{"s":"Ataxia","t":102,"v":0},{"s":"Ataxia","t":108,"v":0},{"s":"Ataxia","t":114,"v":0},{"s":"Ataxia","t":120,"v":0},{"s":"Ataxia","t":126,"v":0},{"s":"Ataxia","t":132,"v":0},{"s":"Ataxia","t":138,"v":0},{"s":"Ataxia","t":144,"v":0},{"s":"Ataxia","t":150,"v":0},{"s":"Ataxia","t":156,"v":0},{"s":"Ataxia","t":162,"v":0},{"s":"Ataxia","t":168,"v":0},{"s":"Ataxia","t":174,"v":0},{"s":"Ataxia","t":180,"v":0},
{"s":"Moribund","t":6,"v":73.3},{"s":"Moribund","t":12,"v":60},{"s":"Moribund","t":18,"v":46.7},{"s":"Moribund","t":24,"v":33.3},{"s":"Moribund","t":30,"v":6.7},{"s":"Moribund","t":36,"v":0},{"s":"Moribund","t":42,"v":0},{"s":"Moribund","t":48,"v":0},{"s":"Moribund","t":54,"v":0},{"s":"Moribund","t":60,"v":0},{"s":"Moribund","t":66,"v":0},{"s":"Moribund","t":72,"v":0},{"s":"Moribund","t":78,"v":0},{"s":"Moribund","t":84,"v":0},{"s":"Moribund","t":90,"v":0},{"s":"Moribund","t":96,"v":0},{"s":"Moribund","t":102,"v":0},{"s":"Moribund","t":108,"v":0},{"s":"Moribund","t":114,"v":0},{"s":"Moribund","t":120,"v":0},{"s":"Moribund","t":126,"v":0},{"s":"Moribund","t":132,"v":0},{"s":"Moribund","t":138,"v":0},{"s":"Moribund","t":144,"v":0},{"s":"Moribund","t":150,"v":0},{"s":"Moribund","t":156,"v":0},{"s":"Moribund","t":162,"v":0},{"s":"Moribund","t":168,"v":0},{"s":"Moribund","t":174,"v":0},{"s":"Moribund","t":180,"v":0},
{"s":"Dead","t":6,"v":26.7},{"s":"Dead","t":12,"v":33.3},{"s":"Dead","t":18,"v":53.3},{"s":"Dead","t":24,"v":66.7},{"s":"Dead","t":30,"v":93.3},{"s":"Dead","t":36,"v":100},{"s":"Dead","t":42,"v":100},{"s":"Dead","t":48,"v":100},{"s":"Dead","t":54,"v":100},{"s":"Dead","t":60,"v":100},{"s":"Dead","t":66,"v":100},{"s":"Dead","t":72,"v":100},{"s":"Dead","t":78,"v":100},{"s":"Dead","t":84,"v":100},{"s":"Dead","t":90,"v":100},{"s":"Dead","t":96,"v":100},{"s":"Dead","t":102,"v":100},{"s":"Dead","t":108,"v":100},{"s":"Dead","t":114,"v":100},{"s":"Dead","t":120,"v":100},{"s":"Dead","t":126,"v":100},{"s":"Dead","t":132,"v":100},{"s":"Dead","t":138,"v":100},{"s":"Dead","t":144,"v":100},{"s":"Dead","t":150,"v":100},{"s":"Dead","t":156,"v":100},{"s":"Dead","t":162,"v":100},{"s":"Dead","t":168,"v":100},{"s":"Dead","t":174,"v":100},{"s":"Dead","t":180,"v":100}
]
},
"spacing":20,
"resolve":{"scale":{"x":"independent","y":"independent"},"legend":{"color":"independent"}},
"hconcat":[
{
"title":{"text":"16±1 °C","font":"Liberation Serif","fontSize":41,"fontWeight":"bold","offset":28,"dx":18},
"spacing":14,
"resolve":{"scale":{"x":"independent","y":"independent"},"legend":{"color":"independent"}},
"vconcat":[
{"width":495,"height":287,"title":{"text":"0.15 ppm","offset":-18,"dx":10},"data":{"name":"L1"},
"encoding":{
"x":{"field":"t","type":"ordinal","scale":{"type":"band","paddingInner":0,"paddingOuter":0},"axis":{"title":"Time (h)","labelAngle":0,"labelOverlap":false,"tickBand":"extent","labelExpr":"datum.value % 12 === 6 ? datum.label : ''"}},
"y":{"field":"v","type":"quantitative","scale":{"domain":[0,100],"range":[287,20],"nice":false},"axis":{"title":"Behavioral response (% workers)","values":[0,10,20,30,40,50,60,70,80,90,100],"titlePadding":12}},
"color":{"field":"s","type":"nominal","scale":{"domain":["Intoxication","Ataxia","Moribund","Dead"],"range":["#5B9BD5","#ED7D31","#A5A5A5","#FFC000"]},"legend":null}},
"layer":[
{"transform":[{"filter":"datum.s === 'Intoxication'"}],"mark":{"type":"line","point":{"filled":true,"size":135,"opacity":1}}},
{"transform":[{"filter":"datum.s === 'Ataxia'"}],"mark":{"type":"line","point":{"filled":true,"size":135,"opacity":1}}},
{"transform":[{"filter":"datum.s === 'Moribund'"}],"mark":{"type":"line","point":{"filled":true,"size":135,"opacity":1}}},
{"transform":[{"filter":"datum.s === 'Dead'"}],"mark":{"type":"line","point":{"filled":true,"size":135,"opacity":1}}}
]},
{"width":493,"height":278,"title":{"text":"0.31 ppm","dx":8},"data":{"name":"L2"},
"encoding":{
"x":{"field":"t","type":"ordinal","scale":{"type":"band","paddingInner":0,"paddingOuter":0},"axis":{"title":"Time (h)","labelAngle":0,"labelOverlap":false,"tickBand":"extent","labelExpr":"datum.value % 12 === 6 ? datum.label : ''"}},
"y":{"field":"v","type":"quantitative","scale":{"domain":[0,100],"nice":false},"axis":{"title":"Behavioral response (% workers)","values":[0,10,20,30,40,50,60,70,80,90,100],"titlePadding":12}},
"color":{"field":"s","type":"nominal","scale":{"domain":["Intoxication","Ataxia","Moribund","Dead"],"range":["#5B9BD5","#ED7D31","#A5A5A5","#FFC000"]},"legend":null}},
"layer":[
{"transform":[{"filter":"datum.s === 'Intoxication'"}],"mark":{"type":"line","point":{"filled":true,"size":135,"opacity":1}}},
{"transform":[{"filter":"datum.s === 'Ataxia'"}],"mark":{"type":"line","point":{"filled":true,"size":135,"opacity":1}}},
{"transform":[{"filter":"datum.s === 'Moribund'"}],"mark":{"type":"line","point":{"filled":true,"size":135,"opacity":1}}},
{"transform":[{"filter":"datum.s === 'Dead'"}],"mark":{"type":"line","point":{"filled":true,"size":135,"opacity":1}}}
]},
{"width":510,"height":292,"title":{"text":"0.62 ppm","dx":5},"data":{"name":"L3"},
"encoding":{
"x":{"field":"t","type":"ordinal","scale":{"type":"band","paddingInner":0,"paddingOuter":0},"axis":{"title":"Time (h)","labelAngle":0,"labelOverlap":false,"tickBand":"extent","labelExpr":"datum.value % 12 === 6 ? datum.label : ''"}},
"y":{"field":"v","type":"quantitative","scale":{"domain":[0,100],"nice":false},"axis":{"title":"Behavioral response (% workers)","values":[0,10,20,30,40,50,60,70,80,90,100],"titlePadding":12}},
"color":{"field":"s","type":"nominal","scale":{"domain":["Intoxication","Ataxia","Moribund","Dead"],"range":["#5B9BD5","#ED7D31","#A5A5A5","#FFC000"]},"legend":null}},
"layer":[
{"transform":[{"filter":"datum.s === 'Intoxication'"}],"mark":{"type":"line","point":{"filled":true,"size":135,"opacity":1}}},
{"transform":[{"filter":"datum.s === 'Ataxia'"}],"mark":{"type":"line","point":{"filled":true,"size":135,"opacity":1}}},
{"transform":[{"filter":"datum.s === 'Moribund'"}],"mark":{"type":"line","point":{"filled":true,"size":135,"opacity":1}}},
{"transform":[{"filter":"datum.s === 'Dead'"}],"mark":{"type":"line","point":{"filled":true,"size":135,"opacity":1}}}
]},
{"width":491,"height":269,"title":{"text":["","1.25 ppm"],"lineHeight":29,"dx":4},"data":{"name":"L4"},
"encoding":{
"x":{"field":"t","type":"ordinal","scale":{"type":"band","paddingInner":0,"paddingOuter":0},"axis":{"title":"Time (h)","labelAngle":0,"labelOverlap":false,"tickBand":"extent","labelExpr":"datum.value % 12 === 6 ? datum.label : ''"}},
"y":{"field":"v","type":"quantitative","scale":{"domain":[0,100],"nice":false},"axis":{"title":"Behavioral response (% workers)","values":[0,10,20,30,40,50,60,70,80,90,100],"titlePadding":12}},
"color":{"field":"s","type":"nominal","scale":{"domain":["Intoxication","Ataxia","Moribund","Dead"],"range":["#5B9BD5","#ED7D31","#A5A5A5","#FFC000"]},"legend":null}},
"layer":[
{"transform":[{"filter":"datum.s === 'Intoxication'"}],"mark":{"type":"line","point":{"filled":true,"size":135,"opacity":1}}},
{"transform":[{"filter":"datum.s === 'Ataxia'"}],"mark":{"type":"line","point":{"filled":true,"size":135,"opacity":1}}},
{"transform":[{"filter":"datum.s === 'Moribund'"}],"mark":{"type":"line","point":{"filled":true,"size":135,"opacity":1}}},
{"transform":[{"filter":"datum.s === 'Dead'"}],"mark":{"type":"line","point":{"filled":true,"size":135,"opacity":1}}}
]}
]
},
{
"title":{"text":"26±1 °C","font":"Liberation Serif","fontSize":41,"fontWeight":"bold","offset":7,"dx":28},
"spacing":14,
"resolve":{"scale":{"x":"independent","y":"independent"},"legend":{"color":"independent"}},
"vconcat":[
{"width":521,"height":282,"title":{"text":"0.15 ppm","dx":8},"data":{"name":"R1"},
"encoding":{
"x":{"field":"t","type":"ordinal","scale":{"type":"band","paddingInner":0,"paddingOuter":0},"axis":{"title":"Time (h)","labelAngle":0,"labelOverlap":false,"tickBand":"extent","labelFont":"Lato","labelFontSize":16,"labelPadding":11,"titlePadding":12,"labelExpr":"datum.value % 12 === 6 ? datum.label : ''"}},
"y":{"field":"v","type":"quantitative","scale":{"domain":[0,100],"nice":false},"axis":{"title":"Behavioral response (% workers)","values":[0,10,20,30,40,50,60,70,80,90,100],"labelFont":"Lato","labelFontSize":16,"titlePadding":5}},
"color":{"field":"s","type":"nominal","scale":{"domain":["Intoxication","Ataxia","Moribund","Dead"],"range":["#5B9BD5","#ED7D31","#A5A5A5","#FFC000"]},
"legend":{"orient":"none","legendX":389,"legendY":106,"title":null,"direction":"vertical","symbolType":"M-1,0L1,0M0.27,0A0.27,0.27,0,1,1,-0.27,0A0.27,0.27,0,1,1,0.27,0Z","symbolSize":1936,"symbolStrokeWidth":3,"clipHeight":16,"rowPadding":18,"labelFont":"Lato","labelFontSize":17,"labelColor":"#595959","labelOffset":2,"padding":0,
"encode":{"symbols":{"update":{"fill":{"scale":"color","field":"value"},"stroke":{"scale":"color","field":"value"},"opacity":{"value":1}}}}}}},
"layer":[
{"transform":[{"filter":"datum.s === 'Intoxication'"}],"mark":{"type":"line","point":{"filled":true,"size":135,"opacity":1}}},
{"transform":[{"filter":"datum.s === 'Ataxia'"}],"mark":{"type":"line","point":{"filled":true,"size":135,"opacity":1}}},
{"transform":[{"filter":"datum.s === 'Moribund'"}],"mark":{"type":"line","point":{"filled":true,"size":135,"opacity":1}}},
{"transform":[{"filter":"datum.s === 'Dead'"}],"mark":{"type":"line","point":{"filled":true,"size":135,"opacity":1}}}
]},
{"width":503,"height":276,"title":{"text":"0.31 ppm","dx":-9},"data":{"name":"R2"},
"encoding":{
"x":{"field":"t","type":"ordinal","scale":{"type":"band","paddingInner":0,"paddingOuter":1.0874,"align":1},"axis":{"title":"Time (h)","labelAngle":0,"labelOverlap":false,"tickBand":"extent","labelFont":"Lato","labelFontSize":16,"labelPadding":11,"titlePadding":12,"labelExpr":"datum.value % 12 === 6 ? datum.label : ''"}},
"y":{"field":"v","type":"quantitative","scale":{"domain":[0,100],"nice":false},"axis":{"title":"Behavioral response (% workers)","values":[0,10,20,30,40,50,60,70,80,90,100],"labelFont":"Lato","labelFontSize":16,"titlePadding":39,"offset":-34}},
"color":{"field":"s","type":"nominal","scale":{"domain":["Intoxication","Ataxia","Moribund","Dead"],"range":["#5B9BD5","#ED7D31","#A5A5A5","#FFC000"]},
"legend":{"orient":"none","legendX":360,"legendY":120,"title":null,"direction":"vertical","symbolType":"M-1,0L1,0M0.27,0A0.27,0.27,0,1,1,-0.27,0A0.27,0.27,0,1,1,0.27,0Z","symbolSize":1936,"symbolStrokeWidth":3,"clipHeight":16,"rowPadding":12,"labelFont":"Lato","labelFontSize":17,"labelColor":"#595959","labelOffset":2,"padding":0,
"encode":{"symbols":{"update":{"fill":{"scale":"color","field":"value"},"stroke":{"scale":"color","field":"value"},"opacity":{"value":1}}}}}}},
"layer":[
{"transform":[{"filter":"datum.s === 'Intoxication'"}],"mark":{"type":"line","point":{"filled":true,"size":135,"opacity":1}}},
{"transform":[{"filter":"datum.s === 'Ataxia'"}],"mark":{"type":"line","point":{"filled":true,"size":135,"opacity":1}}},
{"transform":[{"filter":"datum.s === 'Moribund'"}],"mark":{"type":"line","point":{"filled":true,"size":135,"opacity":1}}},
{"transform":[{"filter":"datum.s === 'Dead'"}],"mark":{"type":"line","point":{"filled":true,"size":135,"opacity":1}}}
]},
{"width":510,"height":289,"title":{"text":"0.62 ppm","dx":2},"data":{"name":"R3"},
"encoding":{
"x":{"field":"t","type":"ordinal","scale":{"type":"band","paddingInner":0,"paddingOuter":1.2420,"align":1},"axis":{"title":"Time (h)","labelAngle":0,"labelOverlap":false,"tickBand":"extent","labelFont":"Lato","labelFontSize":16,"labelPadding":11,"titlePadding":12,"labelExpr":"datum.value % 12 === 6 ? datum.label : ''"}},
"y":{"field":"v","type":"quantitative","scale":{"domain":[0,100],"nice":false},"axis":{"title":"Behavioral response (% workers)","values":[0,10,20,30,40,50,60,70,80,90,100],"labelFont":"Lato","labelFontSize":16,"titlePadding":51,"offset":-39}},
"color":{"field":"s","type":"nominal","scale":{"domain":["Intoxication","Ataxia","Moribund","Dead"],"range":["#5B9BD5","#ED7D31","#A5A5A5","#FFC000"]},
"legend":{"orient":"none","legendX":358,"legendY":128,"title":null,"direction":"vertical","symbolType":"M-1,0L1,0M0.27,0A0.27,0.27,0,1,1,-0.27,0A0.27,0.27,0,1,1,0.27,0Z","symbolSize":1936,"symbolStrokeWidth":3,"clipHeight":16,"rowPadding":12.5,"labelFont":"Lato","labelFontSize":17,"labelColor":"#595959","labelOffset":2,"padding":0,
"encode":{"symbols":{"update":{"fill":{"scale":"color","field":"value"},"stroke":{"scale":"color","field":"value"},"opacity":{"value":1}}}}}}},
"layer":[
{"transform":[{"filter":"datum.s === 'Intoxication'"}],"mark":{"type":"line","point":{"filled":true,"size":135,"opacity":1}}},
{"transform":[{"filter":"datum.s === 'Ataxia'"}],"mark":{"type":"line","point":{"filled":true,"size":135,"opacity":1}}},
{"transform":[{"filter":"datum.s === 'Moribund'"}],"mark":{"type":"line","point":{"filled":true,"size":135,"opacity":1}}},
{"transform":[{"filter":"datum.s === 'Dead'"}],"mark":{"type":"line","point":{"filled":true,"size":135,"opacity":1}}}
]},
{"width":469,"height":290,"title":{"text":"1.25 ppm","dx":5},"data":{"name":"R4"},
"encoding":{
"x":{"field":"t","type":"ordinal","scale":{"type":"band","paddingInner":0,"paddingOuter":0.9524,"align":1},"axis":{"title":"Time (h)","labelAngle":0,"labelOverlap":false,"tickBand":"extent","labelFont":"Lato","labelFontSize":16,"labelPadding":11,"titlePadding":12,"labelExpr":"datum.value % 12 === 6 ? datum.label : ''"}},
"y":{"field":"v","type":"quantitative","scale":{"domain":[0,100],"nice":false},"axis":{"title":"Behavioral response (% workers)","values":[0,10,20,30,40,50,60,70,80,90,100],"labelFont":"Lato","labelFontSize":16,"titlePadding":42,"offset":-28}},
"color":{"field":"s","type":"nominal","scale":{"domain":["Intoxication","Ataxia","Moribund","Dead"],"range":["#5B9BD5","#ED7D31","#A5A5A5","#FFC000"]},
"legend":{"orient":"none","legendX":347,"legendY":152,"title":null,"direction":"vertical","symbolType":"M-1,0L1,0M0.27,0A0.27,0.27,0,1,1,-0.27,0A0.27,0.27,0,1,1,0.27,0Z","symbolSize":1936,"symbolStrokeWidth":3,"clipHeight":16,"rowPadding":10,"labelFont":"Lato","labelFontSize":17,"labelColor":"#595959","labelOffset":2,"padding":0,
"encode":{"symbols":{"update":{"fill":{"scale":"color","field":"value"},"stroke":{"scale":"color","field":"value"},"opacity":{"value":1}}}}}}},
"layer":[
{"transform":[{"filter":"datum.s === 'Intoxication'"}],"mark":{"type":"line","point":{"filled":true,"size":135,"opacity":1}}},
{"transform":[{"filter":"datum.s === 'Ataxia'"}],"mark":{"type":"line","point":{"filled":true,"size":135,"opacity":1}}},
{"transform":[{"filter":"datum.s === 'Moribund'"}],"mark":{"type":"line","point":{"filled":true,"size":135,"opacity":1}}},
{"transform":[{"filter":"datum.s === 'Dead'"}],"mark":{"type":"line","point":{"filled":true,"size":135,"opacity":1}}}
]}
]
}
]
}
